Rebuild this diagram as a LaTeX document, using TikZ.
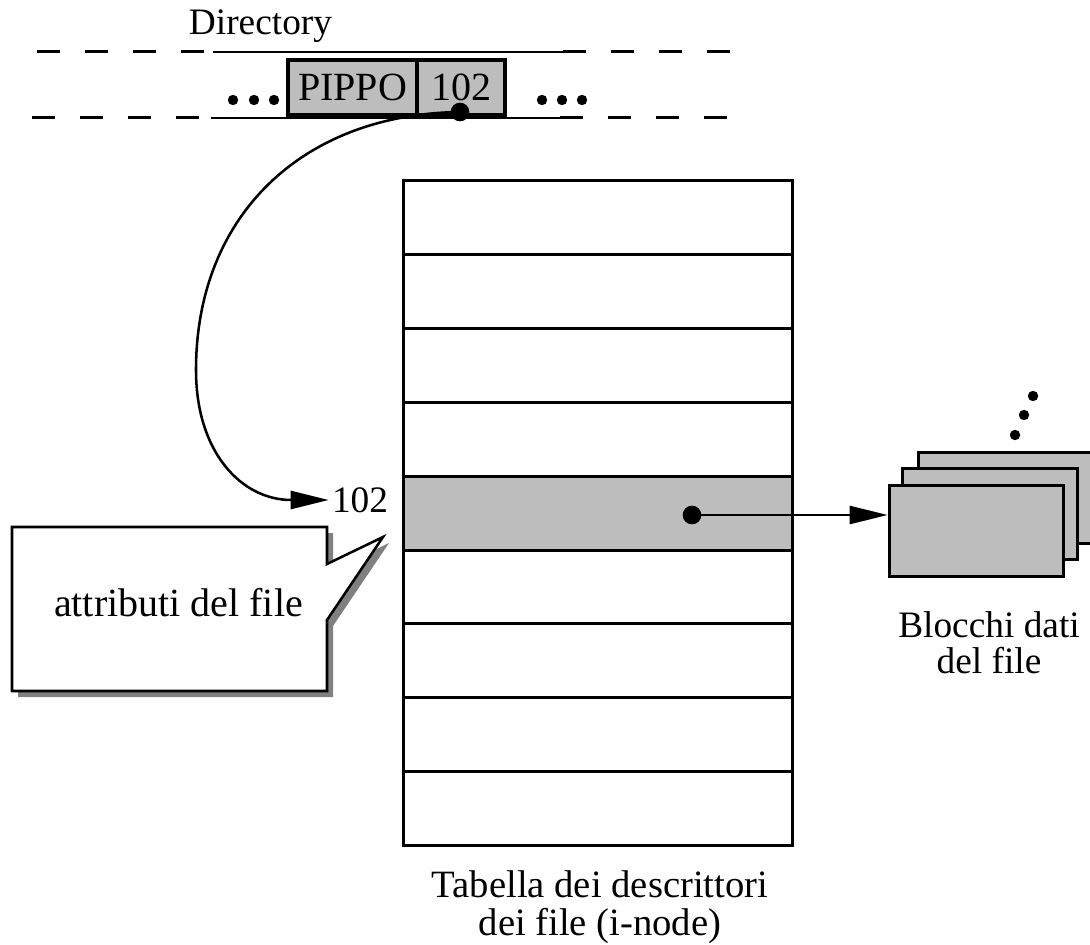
\documentclass[tikz,border=0pt]{standalone}
\usepackage{fontspec}
\setmainfont{Liberation Serif}
\usetikzlibrary{arrows.meta}

\begin{document}
\begin{tikzpicture}[x=0.75pt,y=-0.75pt,line width=1.9pt,
    tip/.style={-{Triangle[length=28.5pt,width=13.5pt]}},
    cell/.style={draw,line width=3pt,fill=black!26,minimum height=41.25pt,
      inner sep=0pt,font=\fontsize{30}{32}\selectfont},
    blk/.style={draw,line width=2.25pt,fill=black!26,minimum width=131pt,
      minimum height=68.25pt}]
  \useasboundingbox (0,0) rectangle (1090,945);
  \newcommand{\dirLine}[5]{ \def\yy{#1} \def\ss{#2} \def\aa{#3} \def\bb{#4}
    \def\ee{#5}
    \draw [line width=2.25pt,dash pattern=on 17.25pt off 18.75pt] (\ss,\yy) -- (\aa,\yy);
    \draw (\aa,\yy) -- (\bb,\yy);
    \draw [line width=2.25pt,dash pattern=on 17.25pt off 18.75pt] (\bb,\yy) -- (\ee,\yy); }
  \dirLine{52}{37}{213}{563}{730} \dirLine{118}{32}{211}{560}{727}
  \node[anchor=base,font=\fontsize{28}{30}\selectfont] (dir) at (260.5,35) {Directory};
  \node[cell,minimum width=96.75pt] (pippo) at (352.5,87.5) {PIPPO};
  \node[cell,minimum width=66pt] (inum) at (461,87.5) {102};
  \foreach \x in {233,254,274,542,562,582} \fill (\x,100) circle (3.9pt);
  \coordinate (ptr) at (460,112);
  \fill (ptr) circle (7pt);
  % table of i-nodes, row 5 is the one of PIPPO
  \foreach \i in {1,...,9} {
    \ifnum\i=5 \def\ff{black!26}\else\def\ff{white}\fi
    \node[draw,line width=2.25pt,fill=\ff,minimum width=291.75pt,
      minimum height=55.35pt] (row\i) at (597.5,181+73.8*\i-36.9) {}; }
  \node[font=\fontsize{28}{30}\selectfont,inner sep=1.5pt] (lbl) at (360,500) {102};
  \draw[tip] (ptr) .. controls (302,114) and (196,216) .. (196,370)
    .. controls (196,453) and (242,500) .. (lbl.west);
  % callout with its shadow
  \fill[black!50,shift={(6,6)}] (12,527) -- (327,527) -- (327,564) -- (383,537)
    -- (327,620) -- (327,691) -- (12,691) -- cycle;
  \draw[fill=white] (12,527) -- (327,527) -- (327,564) -- (383,537)
    -- (327,620) -- (327,691) -- (12,691) -- cycle;
  \node[font=\fontsize{30}{32}\selectfont] (attr) at (178.5,603) {attributi del file};
  % data blocks
  \node[blk] (back) at (1006,497.5) {};
  \node[blk] (mid) at (990,514) {};
  \node[blk] (front) at (976.5,530.5) {};
  \foreach \x/\y in {1033/396,1024/415,1015/435} \fill (\x,\y) circle (3.9pt);
  \coordinate (rdot) at (692,515);
  \fill (rdot) circle (7pt);
  \draw[tip] (rdot) -- (rdot -| front.west);
  \node[anchor=north,align=center,inner sep=0pt,font=\fontsize{28}{27.5}\selectfont]
    (blab) at (989,610) {Blocchi dati\\del file};
  \node[anchor=north,align=center,inner sep=0pt,font=\fontsize{29}{29}\selectfont]
    (tab) at (600,869) {Tabella dei descrittori\\dei file (i-node)};
\end{tikzpicture}
\end{document}
